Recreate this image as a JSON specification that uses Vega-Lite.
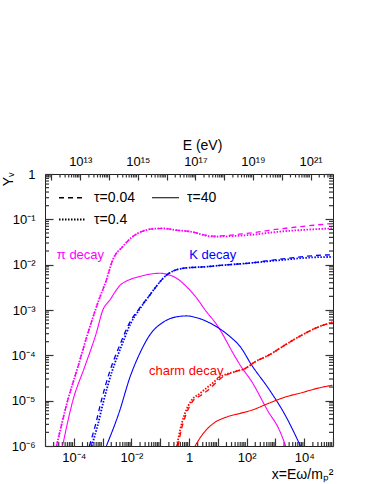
{
 "$schema": "https://vega.github.io/schema/vega-lite/v6.json",
 "width": 288,
 "height": 272,
 "autosize": {"type": "none"},
 "padding": {"left": 45, "top": 174, "right": 41, "bottom": 38},
 "background": "white",
 "config": {
  "view": {"stroke": "#222", "strokeWidth": 1},
  "font": "Liberation Sans",
  "axis": {"domain": false, "grid": false, "labelFont": "Liberation Sans", "labelFontSize": 13, "labelColor": "black", "titleFont": "Liberation Sans", "titleFontWeight": "normal", "titleFontSize": 14, "titleColor": "black", "labelFlush": false, "labelOverlap": false, "labelBound": false}
 },
 "datasets": {
  "curves": [
   {"d":"pi","t":"τ=0.04","x":2.51e-5,"y":1e-6},{"d":"pi","t":"τ=0.04","x":6.17e-5,"y":1.02e-5},{"d":"pi","t":"τ=0.04","x":1.38e-4,"y":5.5e-5},{"d":"pi","t":"τ=0.04","x":3.09e-4,"y":3.09e-4},{"d":"pi","t":"τ=0.04","x":7.41e-4,"y":1.66e-3},{"d":"pi","t":"τ=0.04","x":1.35e-3,"y":4.57e-3},{"d":"pi","t":"τ=0.04","x":2.24e-3,"y":1.26e-2},{"d":"pi","t":"τ=0.04","x":5.01e-3,"y":2.51e-2},{"d":"pi","t":"τ=0.04","x":1.12e-2,"y":4.17e-2},{"d":"pi","t":"τ=0.04","x":2.51e-2,"y":5.5e-2},{"d":"pi","t":"τ=0.04","x":5.62e-2,"y":6.17e-2},{"d":"pi","t":"τ=0.04","x":0.123,"y":6.31e-2},{"d":"pi","t":"τ=0.04","x":0.372,"y":5.75e-2},{"d":"pi","t":"τ=0.04","x":1.07,"y":5.37e-2},{"d":"pi","t":"τ=0.04","x":6.92,"y":4.27e-2},{"d":"pi","t":"τ=0.04","x":102,"y":4.9e-2},{"d":"pi","t":"τ=0.04","x":1479,"y":6.17e-2},{"d":"pi","t":"τ=0.04","x":2.09e4,"y":7.41e-2},{"d":"pi","t":"τ=0.04","x":9.55e4,"y":8.13e-2},
   {"d":"pi","t":"τ=0.4","x":2.51e-5,"y":1e-6},{"d":"pi","t":"τ=0.4","x":6.17e-5,"y":1.02e-5},{"d":"pi","t":"τ=0.4","x":1.38e-4,"y":5.5e-5},{"d":"pi","t":"τ=0.4","x":3.09e-4,"y":3.09e-4},{"d":"pi","t":"τ=0.4","x":7.41e-4,"y":1.66e-3},{"d":"pi","t":"τ=0.4","x":1.35e-3,"y":4.57e-3},{"d":"pi","t":"τ=0.4","x":2.24e-3,"y":1.26e-2},{"d":"pi","t":"τ=0.4","x":5.01e-3,"y":2.51e-2},{"d":"pi","t":"τ=0.4","x":1.12e-2,"y":4.17e-2},{"d":"pi","t":"τ=0.4","x":2.51e-2,"y":5.5e-2},{"d":"pi","t":"τ=0.4","x":5.62e-2,"y":6.17e-2},{"d":"pi","t":"τ=0.4","x":0.123,"y":6.31e-2},{"d":"pi","t":"τ=0.4","x":0.372,"y":5.75e-2},{"d":"pi","t":"τ=0.4","x":1.07,"y":5.37e-2},{"d":"pi","t":"τ=0.4","x":6.92,"y":4.17e-2},{"d":"pi","t":"τ=0.4","x":102,"y":4.47e-2},{"d":"pi","t":"τ=0.4","x":1479,"y":5.37e-2},{"d":"pi","t":"τ=0.4","x":2.09e4,"y":6.03e-2},{"d":"pi","t":"τ=0.4","x":9.55e4,"y":6.31e-2},
   {"d":"pi","t":"τ=40","x":4.07e-5,"y":1e-6},{"d":"pi","t":"τ=40","x":9.33e-5,"y":1.02e-5},{"d":"pi","t":"τ=40","x":2.4e-4,"y":5.62e-5},{"d":"pi","t":"τ=40","x":6.03e-4,"y":3.09e-4},{"d":"pi","t":"τ=40","x":1.02e-3,"y":1e-3},{"d":"pi","t":"τ=40","x":1.78e-3,"y":1.66e-3},{"d":"pi","t":"τ=40","x":3.98e-3,"y":3.47e-3},{"d":"pi","t":"τ=40","x":8.71e-3,"y":4.68e-3},{"d":"pi","t":"τ=40","x":1.95e-2,"y":5.5e-3},{"d":"pi","t":"τ=40","x":4.37e-2,"y":6.17e-3},{"d":"pi","t":"τ=40","x":9.77e-2,"y":6.46e-3},{"d":"pi","t":"τ=40","x":0.166,"y":6.17e-3},{"d":"pi","t":"τ=40","x":0.372,"y":5.01e-3},{"d":"pi","t":"τ=40","x":0.832,"y":3.24e-3},{"d":"pi","t":"τ=40","x":1.86,"y":1.82e-3},{"d":"pi","t":"τ=40","x":3.63,"y":1e-3},{"d":"pi","t":"τ=40","x":9.33,"y":4.68e-4},{"d":"pi","t":"τ=40","x":39.8,"y":9.33e-5},{"d":"pi","t":"τ=40","x":60.3,"y":6.03e-5},{"d":"pi","t":"τ=40","x":151,"y":2.63e-5},{"d":"pi","t":"τ=40","x":575,"y":5.62e-6},{"d":"pi","t":"τ=40","x":1288,"y":2.45e-6},{"d":"pi","t":"τ=40","x":2291,"y":1e-6},
   {"d":"K","t":"τ=0.04","x":3.47e-4,"y":1e-6},{"d":"K","t":"τ=0.04","x":5.62e-4,"y":2.88e-6},{"d":"K","t":"τ=0.04","x":9.12e-4,"y":1.02e-5},{"d":"K","t":"τ=0.04","x":1.74e-3,"y":4.27e-5},{"d":"K","t":"τ=0.04","x":3.98e-3,"y":1.7e-4},{"d":"K","t":"τ=0.04","x":8.51e-3,"y":5.13e-4},{"d":"K","t":"τ=0.04","x":1.82e-2,"y":1.05e-3},{"d":"K","t":"τ=0.04","x":4.37e-2,"y":2.14e-3},{"d":"K","t":"τ=0.04","x":9.77e-2,"y":4.17e-3},{"d":"K","t":"τ=0.04","x":0.166,"y":5.89e-3},{"d":"K","t":"τ=0.04","x":0.282,"y":7.24e-3},{"d":"K","t":"τ=0.04","x":0.832,"y":8.51e-3},{"d":"K","t":"τ=0.04","x":3.16,"y":8.91e-3},{"d":"K","t":"τ=0.04","x":15.8,"y":9.77e-3},{"d":"K","t":"τ=0.04","x":102,"y":1.07e-2},{"d":"K","t":"τ=0.04","x":1479,"y":1.32e-2},{"d":"K","t":"τ=0.04","x":2.14e4,"y":1.58e-2},{"d":"K","t":"τ=0.04","x":9.55e4,"y":1.66e-2},
   {"d":"K","t":"τ=0.4","x":4.17e-4,"y":1e-6},{"d":"K","t":"τ=0.4","x":6.76e-4,"y":2.88e-6},{"d":"K","t":"τ=0.4","x":1.1e-3,"y":1.02e-5},{"d":"K","t":"τ=0.4","x":2.09e-3,"y":4.27e-5},{"d":"K","t":"τ=0.4","x":4.68e-3,"y":1.7e-4},{"d":"K","t":"τ=0.4","x":9.55e-3,"y":5.13e-4},{"d":"K","t":"τ=0.4","x":1.95e-2,"y":1.05e-3},{"d":"K","t":"τ=0.4","x":4.37e-2,"y":2.14e-3},{"d":"K","t":"τ=0.4","x":9.77e-2,"y":4.17e-3},{"d":"K","t":"τ=0.4","x":0.166,"y":5.89e-3},{"d":"K","t":"τ=0.4","x":0.282,"y":7.24e-3},{"d":"K","t":"τ=0.4","x":0.832,"y":8.51e-3},{"d":"K","t":"τ=0.4","x":3.16,"y":8.91e-3},{"d":"K","t":"τ=0.4","x":15.8,"y":9.77e-3},{"d":"K","t":"τ=0.4","x":102,"y":1.07e-2},{"d":"K","t":"τ=0.4","x":1479,"y":1.26e-2},{"d":"K","t":"τ=0.4","x":2.14e4,"y":1.45e-2},{"d":"K","t":"τ=0.4","x":9.55e4,"y":1.48e-2},
   {"d":"K","t":"τ=40","x":1.35e-3,"y":1e-6},{"d":"K","t":"τ=40","x":3.98e-3,"y":6.17e-6},{"d":"K","t":"τ=40","x":8.71e-3,"y":3.16e-5},{"d":"K","t":"τ=40","x":1.95e-2,"y":1.1e-4},{"d":"K","t":"τ=40","x":4.37e-2,"y":2.82e-4},{"d":"K","t":"τ=40","x":0.126,"y":5.37e-4},{"d":"K","t":"τ=40","x":0.372,"y":7.08e-4},{"d":"K","t":"τ=40","x":0.832,"y":7.41e-4},{"d":"K","t":"τ=40","x":1.86,"y":6.76e-4},{"d":"K","t":"τ=40","x":7.08,"y":4.68e-4},{"d":"K","t":"τ=40","x":26.9,"y":2.57e-4},{"d":"K","t":"τ=40","x":60.3,"y":1.55e-4},{"d":"K","t":"τ=40","x":151,"y":6.03e-5},{"d":"K","t":"τ=40","x":575,"y":1.86e-5},{"d":"K","t":"τ=40","x":2188,"y":4.79e-6},{"d":"K","t":"τ=40","x":7413,"y":1e-6},
   {"d":"charm","t":"τ=0.04","x":0.417,"y":1e-6},{"d":"charm","t":"τ=0.04","x":0.537,"y":2.24e-6},{"d":"charm","t":"τ=0.04","x":0.794,"y":5.01e-6},{"d":"charm","t":"τ=0.04","x":1.32,"y":9.55e-6},{"d":"charm","t":"τ=0.04","x":2.63,"y":1.32e-5},{"d":"charm","t":"τ=0.04","x":5.62,"y":1.91e-5},{"d":"charm","t":"τ=0.04","x":12.0,"y":3.02e-5},{"d":"charm","t":"τ=0.04","x":39.8,"y":4.37e-5},{"d":"charm","t":"τ=0.04","x":89.1,"y":5.13e-5},{"d":"charm","t":"τ=0.04","x":200,"y":7.24e-5},{"d":"charm","t":"τ=0.04","x":575,"y":1e-4},{"d":"charm","t":"τ=0.04","x":2188,"y":1.7e-4},{"d":"charm","t":"τ=0.04","x":8511,"y":2.82e-4},{"d":"charm","t":"τ=0.04","x":3.24e4,"y":4.27e-4},{"d":"charm","t":"τ=0.04","x":9.55e4,"y":5.37e-4},
   {"d":"charm","t":"τ=0.4","x":0.38,"y":1e-6},{"d":"charm","t":"τ=0.4","x":0.49,"y":2.24e-6},{"d":"charm","t":"τ=0.4","x":0.724,"y":5.25e-6},{"d":"charm","t":"τ=0.4","x":1.23,"y":1.02e-5},{"d":"charm","t":"τ=0.4","x":2.4,"y":1.45e-5},{"d":"charm","t":"τ=0.4","x":5.37,"y":2.19e-5},{"d":"charm","t":"τ=0.4","x":12.0,"y":3.31e-5},{"d":"charm","t":"τ=0.4","x":39.8,"y":4.37e-5},{"d":"charm","t":"τ=0.4","x":89.1,"y":5.13e-5},{"d":"charm","t":"τ=0.4","x":200,"y":7.24e-5},{"d":"charm","t":"τ=0.4","x":575,"y":1e-4},{"d":"charm","t":"τ=0.4","x":2188,"y":1.7e-4},{"d":"charm","t":"τ=0.4","x":8511,"y":2.82e-4},{"d":"charm","t":"τ=0.4","x":3.24e4,"y":4.27e-4},{"d":"charm","t":"τ=0.4","x":9.55e4,"y":5.37e-4},
   {"d":"charm","t":"τ=40","x":1.62,"y":1e-6},{"d":"charm","t":"τ=40","x":3.16,"y":1.91e-6},{"d":"charm","t":"τ=40","x":7.08,"y":3.16e-6},{"d":"charm","t":"τ=40","x":20.4,"y":4.37e-6},{"d":"charm","t":"τ=40","x":60.3,"y":5.25e-6},{"d":"charm","t":"τ=40","x":151,"y":6.17e-6},{"d":"charm","t":"τ=40","x":575,"y":8.71e-6},{"d":"charm","t":"τ=40","x":2188,"y":1.2e-5},{"d":"charm","t":"τ=40","x":8511,"y":1.51e-5},{"d":"charm","t":"τ=40","x":3.24e4,"y":1.91e-5},{"d":"charm","t":"τ=40","x":9.55e4,"y":2.19e-5}
  ],
  "labels": [
   {"d":"pi","label":"π decay","x":2.57e-5,"y":0.0162},
   {"d":"K","label":"K decay","x":1.02,"y":0.0162},
   {"d":"charm","label":"charm decay","x":0.0407,"y":4.57e-5}
  ]
 },
 "layer": [
  {
   "data": {"values": [{"v":2e-5},{"v":3e-5},{"v":4e-5},{"v":5e-5},{"v":6e-5},{"v":7e-5},{"v":8e-5},{"v":9e-5},{"v":2e-4},{"v":3e-4},{"v":4e-4},{"v":5e-4},{"v":6e-4},{"v":7e-4},{"v":8e-4},{"v":9e-4},{"v":2e-3},{"v":3e-3},{"v":4e-3},{"v":5e-3},{"v":6e-3},{"v":7e-3},{"v":8e-3},{"v":9e-3},{"v":2e-2},{"v":3e-2},{"v":4e-2},{"v":5e-2},{"v":6e-2},{"v":7e-2},{"v":8e-2},{"v":9e-2},{"v":0.2},{"v":0.3},{"v":0.4},{"v":0.5},{"v":0.6},{"v":0.7},{"v":0.8},{"v":0.9},{"v":2},{"v":3},{"v":4},{"v":5},{"v":6},{"v":7},{"v":8},{"v":9},{"v":20},{"v":30},{"v":40},{"v":50},{"v":60},{"v":70},{"v":80},{"v":90},{"v":200},{"v":300},{"v":400},{"v":500},{"v":600},{"v":700},{"v":800},{"v":900},{"v":2000},{"v":3000},{"v":4000},{"v":5000},{"v":6000},{"v":7000},{"v":8000},{"v":9000},{"v":2e4},{"v":3e4},{"v":4e4},{"v":5e4},{"v":6e4},{"v":7e4},{"v":8e4},{"v":9e4}]},
   "mark": {"type": "rule", "color": "#333", "strokeWidth": 1.2},
   "encoding": {
    "x": {"field": "v", "type": "quantitative", "scale": {"type": "log", "domain": [1e-5, 1e5], "nice": false}, "axis": null},
    "y": {"datum": 1e-6, "type": "quantitative", "scale": {"type": "log", "domain": [1e-6, 1], "nice": false}, "axis": null},
    "y2": {"datum": 1.22e-6}
   }
  },
  {
   "data": {"values": [{"v":7e11},{"v":8e11},{"v":9e11},{"v":2e12},{"v":3e12},{"v":4e12},{"v":5e12},{"v":6e12},{"v":7e12},{"v":8e12},{"v":9e12},{"v":2e13},{"v":3e13},{"v":4e13},{"v":5e13},{"v":6e13},{"v":7e13},{"v":8e13},{"v":9e13},{"v":2e14},{"v":3e14},{"v":4e14},{"v":5e14},{"v":6e14},{"v":7e14},{"v":8e14},{"v":9e14},{"v":2e15},{"v":3e15},{"v":4e15},{"v":5e15},{"v":6e15},{"v":7e15},{"v":8e15},{"v":9e15},{"v":2e16},{"v":3e16},{"v":4e16},{"v":5e16},{"v":6e16},{"v":7e16},{"v":8e16},{"v":9e16},{"v":2e17},{"v":3e17},{"v":4e17},{"v":5e17},{"v":6e17},{"v":7e17},{"v":8e17},{"v":9e17},{"v":2e18},{"v":3e18},{"v":4e18},{"v":5e18},{"v":6e18},{"v":7e18},{"v":8e18},{"v":9e18},{"v":2e19},{"v":3e19},{"v":4e19},{"v":5e19},{"v":6e19},{"v":7e19},{"v":8e19},{"v":9e19},{"v":2e20},{"v":3e20},{"v":4e20},{"v":5e20},{"v":6e20},{"v":7e20},{"v":8e20},{"v":9e20},{"v":2e21},{"v":3e21},{"v":4e21},{"v":5e21}]},
   "mark": {"type": "rule", "color": "#333", "strokeWidth": 1.2},
   "encoding": {
    "x": {"field": "v", "type": "quantitative", "scale": {"type": "log", "domain": [6e11, 6e21], "nice": false},
     "axis": {"orient": "top", "offset": -6, "ticks": true, "tickSize": 6, "tickColor": "#333", "tickWidth": 1.2, "labelPadding": 6, "values": [1e12,1e13,1e14,1e15,1e16,1e17,1e18,1e19,1e20,1e21],
      "labelExpr": "round(log(datum.value)/LN10) % 2 == 1 ? '10' + ['⁰','¹','²','³','⁴','⁵','⁶','⁷','⁸','⁹'][floor(round(log(datum.value)/LN10)/10)] + ['⁰','¹','²','³','⁴','⁵','⁶','⁷','⁸','⁹'][round(log(datum.value)/LN10) % 10] : ''",
      "title": "E (eV)", "titleX": 157, "titleY": -35, "titleAlign": "center", "titleBaseline": "middle", "titleAnchor": null}},
    "y": {"datum": 1, "type": "quantitative", "scale": {"type": "log", "domain": [1e-6, 1], "nice": false}, "axis": null},
    "y2": {"datum": 0.84}
   }
  },
  {
   "data": {"values": [{"v":2e-6},{"v":3e-6},{"v":4e-6},{"v":5e-6},{"v":6e-6},{"v":7e-6},{"v":8e-6},{"v":9e-6},{"v":2e-5},{"v":3e-5},{"v":4e-5},{"v":5e-5},{"v":6e-5},{"v":7e-5},{"v":8e-5},{"v":9e-5},{"v":2e-4},{"v":3e-4},{"v":4e-4},{"v":5e-4},{"v":6e-4},{"v":7e-4},{"v":8e-4},{"v":9e-4},{"v":2e-3},{"v":3e-3},{"v":4e-3},{"v":5e-3},{"v":6e-3},{"v":7e-3},{"v":8e-3},{"v":9e-3},{"v":2e-2},{"v":3e-2},{"v":4e-2},{"v":5e-2},{"v":6e-2},{"v":7e-2},{"v":8e-2},{"v":9e-2},{"v":0.2},{"v":0.3},{"v":0.4},{"v":0.5},{"v":0.6},{"v":0.7},{"v":0.8},{"v":0.9}]},
   "mark": {"type": "rule", "color": "#333", "strokeWidth": 1.2},
   "encoding": {
    "y": {"field": "v", "type": "quantitative", "scale": {"type": "log", "domain": [1e-6, 1], "nice": false},
     "axis": {"orient": "right", "offset": -8, "ticks": true, "tickSize": 8, "tickColor": "#333", "tickWidth": 1.2, "labels": false, "title": null, "values": [1e-6,1e-5,1e-4,1e-3,1e-2,1e-1,1]}},
    "x": {"datum": 1e-5, "type": "quantitative", "scale": {"type": "log", "domain": [1e-5, 1e5], "nice": false}, "axis": null},
    "x2": {"datum": 1.38e-5}
   }
  },
  {
   "data": {"values": [{"v":2e-6},{"v":3e-6},{"v":4e-6},{"v":5e-6},{"v":6e-6},{"v":7e-6},{"v":8e-6},{"v":9e-6},{"v":2e-5},{"v":3e-5},{"v":4e-5},{"v":5e-5},{"v":6e-5},{"v":7e-5},{"v":8e-5},{"v":9e-5},{"v":2e-4},{"v":3e-4},{"v":4e-4},{"v":5e-4},{"v":6e-4},{"v":7e-4},{"v":8e-4},{"v":9e-4},{"v":2e-3},{"v":3e-3},{"v":4e-3},{"v":5e-3},{"v":6e-3},{"v":7e-3},{"v":8e-3},{"v":9e-3},{"v":2e-2},{"v":3e-2},{"v":4e-2},{"v":5e-2},{"v":6e-2},{"v":7e-2},{"v":8e-2},{"v":9e-2},{"v":0.2},{"v":0.3},{"v":0.4},{"v":0.5},{"v":0.6},{"v":0.7},{"v":0.8},{"v":0.9}]},
   "mark": {"type": "rule", "color": "#333", "strokeWidth": 1.2},
   "encoding": {
    "y": {"field": "v", "type": "quantitative", "scale": {"type": "log", "domain": [1e-6, 1], "nice": false}, "axis": null},
    "x": {"datum": 1e5, "type": "quantitative", "scale": {"type": "log", "domain": [1e-5, 1e5], "nice": false}, "axis": null},
    "x2": {"datum": 7.26e4}
   }
  },
  {
   "data": {"name": "curves"},
   "mark": {"type": "line", "clip": true, "interpolate": "monotone"},
   "encoding": {
    "x": {"field": "x", "type": "quantitative", "scale": {"type": "log", "domain": [1e-5, 1e5], "nice": false},
     "axis": {"orient": "bottom", "offset": -8, "ticks": true, "tickSize": 8, "tickColor": "#333", "tickWidth": 1.2, "values": [1e-5,1e-4,1e-3,1e-2,1e-1,1,10,100,1000,1e4,1e5], "labelPadding": 5,
      "labelExpr": "(round(log(datum.value)/LN10) % 2 != 0 || abs(round(log(datum.value)/LN10)) > 4) ? '' : (round(log(datum.value)/LN10) == 0 ? '1' : '10' + (round(log(datum.value)/LN10) < 0 ? '⁻' : '') + ['⁰','¹','²','³','⁴'][abs(round(log(datum.value)/LN10))])",
      "title": "x=Eω/mₚ²", "titleAnchor": "end", "titlePadding": 3}},
    "y": {"field": "y", "type": "quantitative", "scale": {"type": "log", "domain": [1e-6, 1], "nice": false},
     "axis": {"orient": "left", "offset": -8, "ticks": true, "tickSize": 8, "tickColor": "#333", "tickWidth": 1.2, "values": [1e-6,1e-5,1e-4,1e-3,1e-2,1e-1,1], "labelPadding": 10,
      "labelExpr": "round(log(datum.value)/LN10) == 0 ? '1' : '10⁻' + ['⁰','¹','²','³','⁴','⁵','⁶'][-round(log(datum.value)/LN10)]",
      "title": "Yᵥ", "titleX": -45, "titleY": -2, "titleAlign": "right", "titleBaseline": "middle", "titleAngle": 270}},
    "color": {"field": "d", "type": "nominal", "scale": {"domain": ["pi","K","charm"], "range": ["#ff00ff","#0000ff","#ff0000"]}, "legend": null},
    "strokeDash": {"field": "t", "type": "nominal", "scale": {"domain": ["τ=0.04","τ=0.4","τ=40"], "range": [[5,4],[1.5,1.5],[1,0]]},
     "legend": {"title": null, "orient": "none", "legendX": 13, "legendY": 9, "columns": 2, "columnPadding": 14, "rowPadding": -9, "symbolType": "stroke", "symbolSize": 729, "symbolStrokeColor": "black", "symbolStrokeWidth": 1.3, "labelFontSize": 14, "labelOffset": 7, "labelFont": "Liberation Sans", "labelColor": "black"}},
    "strokeWidth": {"field": "t", "type": "ordinal", "scale": {"type": "ordinal", "domain": ["τ=0.04","τ=0.4","τ=40"], "range": [1.3, 1.8, 1.1]}, "legend": null}
   }
  },
  {
   "data": {"name": "labels"},
   "mark": {"type": "text", "align": "left", "baseline": "middle", "fontSize": 13, "font": "Liberation Sans"},
   "encoding": {
    "x": {"field": "x", "type": "quantitative", "scale": {"type": "log", "domain": [1e-5, 1e5], "nice": false}, "axis": null},
    "y": {"field": "y", "type": "quantitative", "scale": {"type": "log", "domain": [1e-6, 1], "nice": false}, "axis": null},
    "text": {"field": "label"},
    "color": {"field": "d", "type": "nominal", "scale": {"domain": ["pi","K","charm"], "range": ["#ff00ff","#0000ff","#ff0000"]}, "legend": null}
   }
  }
 ],
 "resolve": {"scale": {"x": "independent", "y": "independent"}, "axis": {"x": "independent", "y": "independent"}}
}
